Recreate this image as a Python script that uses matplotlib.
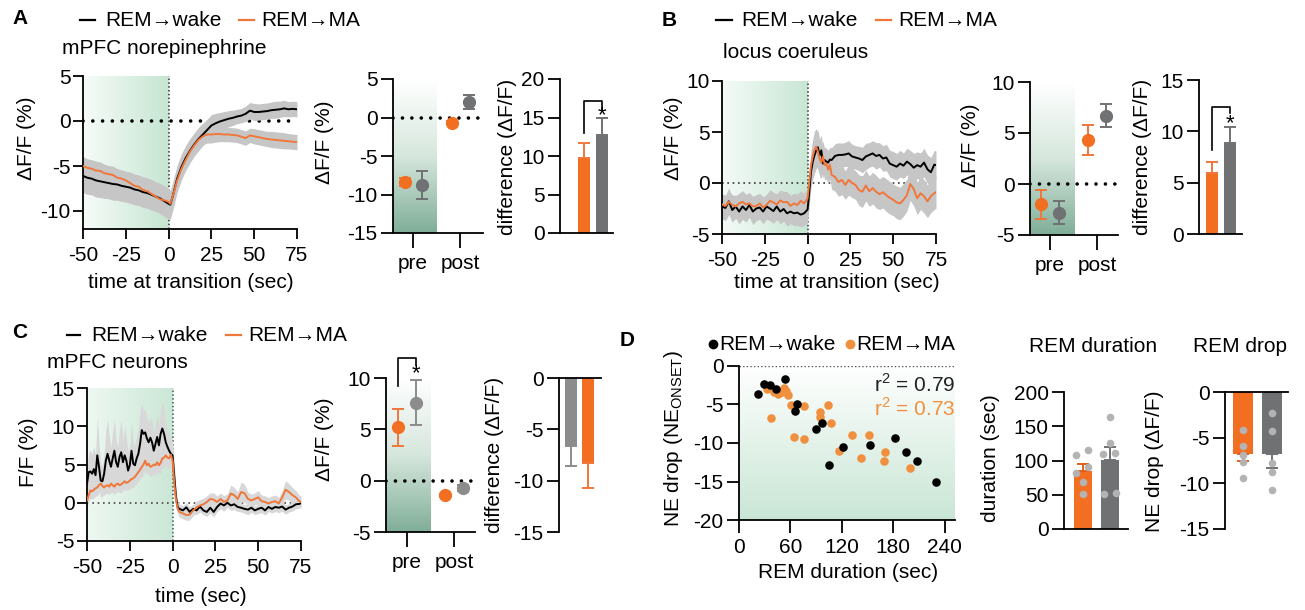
import numpy as np
import matplotlib
matplotlib.use("Agg")
import matplotlib.pyplot as plt
from matplotlib.colors import LinearSegmentedColormap
from matplotlib.lines import Line2D

plt.rcParams['font.family'] = ['Liberation Sans', 'DejaVu Sans']
plt.rcParams['axes.linewidth'] = 1.3
plt.rcParams['axes.unicode_minus'] = False

# --- colours ---
ORANGE = '#f26f22'
ORANGE_LINE = '#f0773a'
ORANGE_DOT = '#f0903e'
GRAY = '#6f7173'
GRAY_C = '#8c8c8c'
BAND = '#c6c6c6'
BAND_C = '#d8d8d8'
DOT_GRAY = '#b3b3b3'

# --- A: mPFC norepinephrine (mean +- sem) ---
a_t = [-50, -47.5, -45, -42.5, -40, -37.5, -35, -32.5, -30, -27.5, -25, -22.5, -20, -17.5, -15, -12.5,
       -10, -7.5, -5, -2.5, 0, 1, 2.5, 5, 7.5, 10, 12.5, 15, 17.5, 20, 22.5, 25, 27.5, 30, 32.5, 35,
       37.5, 40, 42.5, 45, 47.5, 50, 52.5, 55, 57.5, 60, 62.5, 65, 67.5, 70, 72.5, 75]
a_wake = [-6.1, -6.3, -6.4, -6.6, -6.7, -6.8, -6.9, -7.0, -7.05, -7.2, -7.3, -7.4, -7.6, -7.7, -7.9, -8.0,
          -8.2, -8.4, -8.6, -8.9, -9.2, -9.3, -8.3, -6.4, -5.1, -4.1, -3.3, -2.6, -2.0, -1.5, -1.0, -0.5,
          -0.25, -0.05, 0.1, 0.25, 0.35, 0.5, 0.6, 0.8, 1.15, 1.0, 1.0, 1.05, 1.1, 1.2, 1.25, 1.3, 1.4,
          1.3, 1.35, 1.3]
a_wake_sem = [1.85, 1.85, 1.8, 1.85, 1.8, 1.8, 1.75, 1.8, 1.75, 1.75, 1.7, 1.75, 1.7, 1.7, 1.7, 1.7,
              1.7, 1.65, 1.7, 1.7, 1.7, 1.6, 1.6, 1.5, 1.45, 1.4, 1.35, 1.3, 1.3, 1.25, 1.2, 1.2, 1.1,
              1.0, 0.95, 0.9, 0.85, 0.8, 0.8, 0.85, 0.9, 0.95, 0.9, 0.9, 0.9, 0.9, 0.95, 0.9, 0.9, 0.85,
              0.85, 0.85]
a_ma = [-5.0, -5.2, -5.3, -5.5, -5.55, -5.8, -5.9, -6.0, -6.3, -6.4, -6.6, -6.9, -7.2, -7.3, -7.65, -7.8,
        -8.1, -8.4, -8.7, -8.8, -9.0, -9.2, -8.3, -6.6, -5.3, -4.3, -3.4, -2.7, -2.1, -1.7, -1.5, -1.5,
        -1.45, -1.45, -1.5, -1.5, -1.55, -1.6, -1.75, -1.9, -1.6, -1.7, -1.8, -1.9, -2.0, -2.05, -2.1,
        -2.15, -2.2, -2.25, -2.3, -2.35]
a_ma_sem = [1.05, 1.0, 1.0, 1.05, 1.0, 1.0, 0.95, 1.0, 1.0, 0.95, 1.0, 1.0, 0.95, 1.0, 1.0, 0.95,
            1.0, 1.0, 1.0, 1.0, 1.0, 1.0, 1.1, 1.1, 1.05, 1.0, 1.0, 1.0, 1.0, 0.95, 0.95, 0.95, 0.9,
            0.85, 0.8, 0.8, 0.8, 0.8, 0.8, 0.8, 0.8, 0.85, 0.85, 0.85, 0.85, 0.9, 0.9, 0.9, 0.9, 0.85,
            0.85, 0.85]

# pre / post means (orange = REM->MA, gray = REM->wake)
a_pp_ma = [-8.4, -0.7]
a_pp_ma_err = [0.5, 0.2]
a_pp_wake = [-8.8, 2.0]
a_pp_wake_err = [1.8, 0.9]
a_diff = [9.7, 12.7]
a_diff_err = [2.0, 2.2]

# --- B: locus coeruleus ---
b_t = [-50, -48, -46, -44, -42, -40, -38, -36, -34, -32, -30, -28, -26, -24, -22, -20, -18, -16, -14,
       -12, -10, -8, -6, -4, -2, 0, 1, 2, 3, 4, 5, 6, 7, 8, 9, 10, 11, 12, 13, 14, 16, 18, 20, 22, 24,
       26, 28, 30, 32, 34, 36, 38, 40, 42, 44, 46, 48, 50, 52, 54, 56, 58, 60, 62, 64, 66, 68, 70, 72,
       74, 75]
b_wake = [-2.3, -2.45, -1.8, -2.65, -2.3, -2.8, -2.3, -2.65, -2.15, -2.8, -2.5, -2.4, -2.8, -2.3, -2.5,
          -2.75, -2.3, -2.8, -2.55, -2.97, -2.8, -2.97, -2.9, -3.1, -2.97, -2.6,
          -0.85, 1.1, 2.1, 2.7, 3.2, 3.5, 2.7, 3.2, 1.9, 2.25, 2.1, 2.0, 2.3, 2.25,
          2.65, 2.75, 2.75, 2.8, 2.9, 2.6, 2.5, 2.4, 2.25, 2.6, 2.75, 2.9, 2.65, 2.75, 2.4, 2.5, 1.9,
          1.75, 1.6, 1.9, 1.7, 2.1, 1.85, 1.5, 1.75, 1.6, 2.0, 1.35, 1.05, 1.8, 1.75]
b_wake_sem = [1.2, 1.25, 1.3, 1.2, 1.15, 1.2, 1.25, 1.2, 1.2, 1.3, 1.2, 1.15, 1.2, 1.25, 1.2, 1.2, 1.3,
              1.2, 1.2, 1.25, 1.2, 1.2, 1.25, 1.2, 1.2, 1.2,
              1.3, 1.5, 1.7, 1.8, 1.8, 1.7, 1.6, 1.5, 1.4, 1.3, 1.3, 1.2, 1.2, 1.2,
              1.2, 1.2, 1.15, 1.2, 1.25, 1.2, 1.15, 1.2, 1.25, 1.3, 1.2, 1.25, 1.3, 1.2, 1.25, 1.3, 1.3,
              1.35, 1.3, 1.3, 1.25, 1.3, 1.35, 1.4, 1.3, 1.35, 1.4, 1.4, 1.45, 1.4, 1.4]
b_ma = [-2.1, -2.25, -1.85, -2.15, -2.3, -2.0, -1.85, -2.1, -2.0, -2.3, -2.25, -2.0, -2.4, -2.15, -1.75,
        -1.9, -2.1, -1.7, -1.9, -1.85, -2.25, -2.0, -2.15, -1.75, -2.0, -1.5,
        0.1, 1.75, 2.6, 3.25, 3.55, 3.1, 2.4, 2.0, 2.6, 1.75, 1.9, 1.3, 1.8, 0.8,
        0.6, 0.1, 0.3, -0.2, 0.3, 0.0, -0.2, -0.7, -0.85, -0.25, -0.8, -0.5, -0.85, -1.1, -0.9, -1.2,
        -1.45, -1.65, -1.9, -2.0, -1.65, -1.2, -0.1, -0.6, -1.5, -1.0, -1.3, -1.8, -1.3, -1.0, -0.9]
b_ma_sem = [1.0, 1.05, 1.1, 1.0, 1.05, 1.0, 1.1, 1.0, 1.05, 1.0, 1.1, 1.0, 1.05, 1.0, 1.1, 1.0, 1.05,
            1.0, 1.1, 1.0, 1.05, 1.0, 1.05, 1.0, 1.0, 1.0,
            1.2, 1.5, 1.7, 1.8, 1.8, 1.8, 1.7, 1.6, 1.5, 1.5, 1.5, 1.4, 1.4, 1.4,
            1.4, 1.4, 1.45, 1.4, 1.5, 1.45, 1.4, 1.5, 1.55, 1.5, 1.5, 1.55, 1.6, 1.5, 1.55, 1.6, 1.6,
            1.55, 1.6, 1.6, 1.6, 1.55, 1.6, 1.65, 1.6, 1.6, 1.65, 1.6, 1.6, 1.6, 1.6]

b_pp_ma = [-2.0, 4.3]
b_pp_ma_err = [1.4, 1.5]
b_pp_wake = [-2.8, 6.7]
b_pp_wake_err = [1.1, 1.1]
b_diff = [5.9, 8.9]
b_diff_err = [1.1, 1.5]

# --- C: mPFC neurons ---
c_t = list(range(-50, 1)) + [1, 2, 3, 4] + list(range(6, 75, 2)) + [75]
c_wake = [2.5, 4.0, 4.1, 3.8, 4.4, 3.6, 6.2, 4.7, 2.9, 2.8, 3.8, 5.5, 6.4, 5.5, 4.7, 5.8, 6.8, 5.3, 4.7,
          6.0, 6.6, 5.3, 6.2, 5.5, 4.2, 4.9, 6.8, 5.1, 4.9, 5.8, 6.4, 7.7, 9.5, 9.0, 9.2, 8.4, 7.9, 8.5,
          7.9, 6.8, 7.7, 8.6, 7.5, 9.0, 9.7, 9.0, 7.9, 7.3, 6.8, 6.4, 6.2,
          3.4, 0.7, -0.6, -0.8, -1.0, -0.6, -1.2, -0.8, -1.0, -0.5, -1.0, -1.2, -0.65, -1.2, -0.55,
          -0.1, -0.35, 0.0, -0.35, -0.2, -0.55, -0.65, -0.8, -0.9, -0.65, -1.0, -0.8, -0.65, -1.0,
          -0.55, -0.8, -0.55, -0.65, -0.5, -0.9, -0.65, -0.5, -0.2, -0.15, -0.05]
c_wake_sem = [2.0, 2.5, 2.8, 2.5, 3.0, 2.6, 5.0, 3.0, 2.2, 2.0, 2.4, 4.0, 4.5, 3.2, 2.5, 3.5, 4.0, 3.0,
              2.6, 3.6, 4.2, 3.0, 3.8, 3.0, 2.4, 2.6, 3.8, 2.8, 2.6, 3.0, 3.2, 4.5, 3.5, 3.0, 3.0, 2.8,
              2.6, 2.8, 2.6, 2.4, 2.6, 3.0, 2.6, 3.2, 3.5, 3.0, 2.6, 2.4, 2.2, 2.0, 1.8,
              1.5, 1.0, 0.7, 0.65, 0.6, 0.6, 0.65, 0.6, 0.55, 0.7, 0.6, 0.6, 0.7, 0.65, 0.6, 0.7, 0.75,
              0.6, 0.65, 0.7, 0.6, 0.55, 0.6, 0.65, 0.6, 0.55, 0.6, 0.65, 0.6, 0.6, 0.55, 0.6, 0.65,
              0.6, 0.6, 0.55, 0.6, 0.6, 0.55, 0.5]
c_ma = [0.3, 1.0, 1.6, 1.5, 1.7, 1.9, 2.0, 2.3, 2.5, 2.2, 2.0, 2.2, 2.3, 2.1, 2.5, 2.3, 2.1, 2.4, 2.5,
        2.3, 2.4, 2.6, 2.8, 2.6, 2.7, 2.9, 3.1, 3.2, 3.4, 3.7, 4.0, 4.3, 4.7, 5.0, 5.5, 4.9, 5.1, 4.7,
        4.8, 5.0, 4.9, 5.3, 4.9, 5.2, 5.8, 5.9, 6.2, 5.9, 5.8, 6.3, 5.5,
        2.5, 0.3, -0.8, -1.2, -1.4, -1.6, -1.55, -1.0, -0.6, -0.35, -0.2, 0.1, 0.5, 0.4, 0.1, 0.5, 0.1,
        0.3, 1.2, 1.0, 0.5, 1.4, 1.25, 0.5, 0.3, 0.5, 0.7, 0.2, 0.1, -0.1, 0.1, 0.2, -0.1, 0.7, 1.7,
        1.4, 1.0, 0.7, 0.2, 0.1]
c_ma_sem = [0.8, 0.9, 1.0, 1.0, 1.1, 1.0, 1.1, 1.0, 1.0, 1.1, 1.0, 1.0, 1.1, 1.0, 1.1, 1.0, 1.0, 1.1,
            1.0, 1.0, 1.1, 1.0, 1.1, 1.0, 1.0, 1.1, 1.1, 1.2, 1.1, 1.2, 1.2, 1.2, 1.3, 1.3, 1.3, 1.2,
            1.2, 1.3, 1.2, 1.2, 1.3, 1.2, 1.2, 1.3, 1.3, 1.2, 1.2, 1.3, 1.2, 1.2, 1.2,
            1.2, 0.9, 0.7, 0.7, 0.7, 0.7, 0.7, 0.7, 0.8, 0.8, 0.8, 0.8, 0.8, 0.9, 0.8, 0.8, 0.8, 0.9,
            1.1, 1.0, 0.9, 1.3, 1.2, 0.9, 0.8, 0.8, 0.9, 0.8, 0.8, 0.8, 0.8, 0.8, 0.8, 0.9, 1.2, 1.1,
            1.0, 0.9, 0.8, 0.8]

c_pp_ma = [5.2, -1.4]
c_pp_ma_err = [1.8, 0.15]
c_pp_wake = [7.6, -0.7]
c_pp_wake_err = [2.2, 0.3]
c_diff = [-6.6, -8.3]          # gray (wake), orange (MA)
c_diff_err = [2.0, 2.4]

# --- D: NE drop vs REM duration ---
d_wake_x = [21.7, 29.1, 36.1, 43.1, 53.6, 67.2, 65.2, 90.1, 96.3, 105.2, 120.8, 153.0, 182.1, 195.3,
            207.8, 229.9]
d_wake_y = [-3.6, -2.3, -2.5, -3.0, -1.7, -5.0, -5.9, -8.2, -7.4, -12.8, -10.5, -10.3, -9.4, -11.2,
            -12.3, -15.0]
d_ma_x = [32.2, 41.2, 45.8, 49.7, 52.4, 54.4, 56.7, 60.6, 76.1, 64.5, 75.3, 94.8, 94.8, 104.1, 107.2,
          116.9, 131.3, 142.9, 151.5, 170.1, 169.3, 200.0, 37.3]
d_ma_y = [-3.0, -3.4, -3.6, -3.4, -2.9, -3.25, -3.8, -5.1, -5.15, -9.2, -9.5, -6.0, -6.6, -5.1, -7.4,
          -11.1, -9.0, -11.9, -9.0, -11.2, -12.4, -13.3, -6.8]

dur_mean = [84, 101]           # orange, gray
dur_err = [11, 18]
dur_ma_pts = [108, 115, 91, 82, 68, 51]
dur_wake_pts = [164, 125, 110, 111, 51, 52]
dur_ma_jit = [-0.26, 0.19, 0.19, -0.26, 0.0, 0.0]
dur_wake_jit = [0.0, 0.0, -0.25, 0.19, -0.22, 0.22]

drop_mean = [-6.8, -6.8]
drop_err = [0.8, 1.5]
drop_ma_pts = [-4.2, -5.9, -6.9, -7.7, -9.4]
drop_wake_pts = [-2.3, -4.3, -7.8, -8.8, -10.7]

W, H = 1305, 610
fig = plt.figure(figsize=(W / 100, H / 100), dpi=100)
FS = 15
TS = 15


def box(l, t, r, b):
    return fig.add_axes([l / W, 1 - b / H, (r - l) / W, (b - t) / H])


def ftext(x, y, s, **kw):
    kw.setdefault('fontsize', FS)
    return fig.text(x / W, 1 - y / H, s, **kw)


def ylab(x, y, s):
    ftext(x, y, s, rotation=90, ha='center', va='center')


def fline(x0, x1, y, color):
    fig.add_artist(Line2D([x0 / W, x1 / W], [1 - y / H, 1 - y / H], color=color, lw=1.6,
                          transform=fig.transFigure))


def fdot(x, y, color):
    fig.add_artist(Line2D([x / W], [1 - y / H], marker='o', ms=6, color=color, lw=0,
                          transform=fig.transFigure))


def style(ax, top=False, tick_len=9):
    ax.spines['right'].set_visible(False)
    if top:
        ax.spines['bottom'].set_visible(False)
    else:
        ax.spines['top'].set_visible(False)
    ax.tick_params(direction='out', length=tick_len, width=1.3, labelsize=TS, pad=2)


def gradient(ax, extent, colors, horizontal=True):
    cmap = LinearSegmentedColormap.from_list('shade', colors)
    ramp = np.linspace(0, 1, 256)
    img = ramp.reshape(1, -1) if horizontal else ramp.reshape(-1, 1)
    ax.imshow(img, extent=extent, origin='lower', aspect='auto', cmap=cmap, zorder=0,
              interpolation='bilinear')


def trace(ax, t, wake, wake_sem, ma, ma_sem, ylim, yticks, band, grad_cols, hl_kw, vl_color):
    t = np.array(t)
    wake, wake_sem = np.array(wake), np.array(wake_sem)
    ma, ma_sem = np.array(ma), np.array(ma_sem)
    gradient(ax, [-50, 0, ylim[0], ylim[1]], grad_cols, horizontal=True)
    ax.axhline(0, zorder=1, **hl_kw)
    ax.axvline(0, color=vl_color, ls=(0, (1, 1.5)), lw=1.1, zorder=1)
    ax.fill_between(t, wake - wake_sem, wake + wake_sem, color=band, lw=0, zorder=2)
    ax.fill_between(t, ma - ma_sem, ma + ma_sem, color=band, lw=0, zorder=2)
    ax.plot(t, wake, color='black', lw=1.4, zorder=3)
    ax.plot(t, ma, color=ORANGE_LINE, lw=1.4, zorder=4)
    ax.set_xlim(-50, 75)
    ax.set_ylim(*ylim)
    ax.set_xticks([-50, -25, 0, 25, 50, 75])
    ax.set_yticks(yticks)
    style(ax, tick_len=7)
    ax.tick_params(axis='x', pad=5)


PP_GRAD = [(0, '#80ae98'), (0.5, '#d6e7dd'), (1, '#ffffff')]


def prepost(ax, ma, ma_err, wake, wake_err, ylim, yticks, xlim, shade_end, gray, offs):
    gradient(ax, [xlim[0], shade_end, ylim[0], ylim[1]], PP_GRAD, horizontal=False)
    ax.axhline(0, color='black', ls=(0, (0.01, 2.6)), lw=2.6, dash_capstyle='round', zorder=1)
    ax.errorbar([1 + offs[0], 2 + offs[0]], ma, yerr=ma_err, fmt='o', color=ORANGE, ms=8.5,
                ecolor=ORANGE_LINE, elinewidth=1.4, capsize=4.5, capthick=1.4, zorder=3)
    ax.errorbar([1 + offs[1], 2 + offs[1]], wake, yerr=wake_err, fmt='o', color=gray, ms=8.5,
                ecolor=gray, elinewidth=1.4, capsize=4.5, capthick=1.4, zorder=3)
    ax.set_xlim(*xlim)
    ax.set_ylim(*ylim)
    ax.set_yticks(yticks)
    ax.set_xticks([1, 2])
    ax.set_xticklabels(['pre', 'post'], fontsize=FS)
    style(ax)
    ax.tick_params(axis='x', length=11, pad=4)


def bracket(ax, x1, x2, y1, y2, ytop, star_y):
    ax.plot([x1, x1, x2, x2], [y1, ytop, ytop, y2], color='black', lw=1.2, clip_on=False, zorder=5)
    ax.text(x2, star_y, '*', ha='center', va='center', fontsize=16, clip_on=False)


# ================= A =================
axA = box(83, 76, 297, 229)
trace(axA, a_t, a_wake, a_wake_sem, a_ma, a_ma_sem, (-12, 5), [-10, -5, 0, 5], BAND,
      ['#f7fcf9', '#c6e5d2'],
      dict(color='black', ls=(0, (0.01, 2.7)), lw=2.6, dash_capstyle='round'), '#333333')

axA2 = box(393, 79, 483, 233)
prepost(axA2, a_pp_ma, a_pp_ma_err, a_pp_wake, a_pp_wake_err, (-15, 5), [-15, -10, -5, 0, 5],
        (0.574, 2.49), 1.51, GRAY, (-0.18, 0.2))

axA3 = box(560, 79, 613, 233)
axA3.bar([1, 2], a_diff, width=0.67, color=[ORANGE, GRAY], zorder=2)
axA3.errorbar([1], [a_diff[0]], yerr=[[0], [a_diff_err[0]]], fmt='none', ecolor=ORANGE_LINE,
              elinewidth=1.4, capsize=4, capthick=1.4)
axA3.errorbar([2], [a_diff[1]], yerr=[[0], [a_diff_err[1]]], fmt='none', ecolor=GRAY,
              elinewidth=1.4, capsize=4, capthick=1.4)
axA3.set_xlim(-0.333, 2.61)
axA3.set_ylim(0, 20)
axA3.set_yticks([0, 5, 10, 15, 20])
axA3.set_xticks([])
style(axA3)
bracket(axA3, 1, 2, 13, 16, 17.1, 15.2)

# ================= B =================
axB = box(722, 81, 936, 234)
trace(axB, b_t, b_wake, b_wake_sem, b_ma, b_ma_sem, (-5, 10), [-5, 0, 5, 10], BAND,
      ['#f5fbf8', '#c8e6d4'],
      dict(color='#333333', ls=(0, (1, 2.2)), lw=1.2), '#333333')

axB2 = box(1030, 82, 1118, 235)
prepost(axB2, b_pp_ma, b_pp_ma_err, b_pp_wake, b_pp_wake_err, (-5, 10), [-5, 0, 5, 10],
        (0.574, 2.447), 1.53, GRAY, (-0.19, 0.19))

axB3 = box(1199, 80, 1242, 234)
axB3.bar([1, 2], b_diff, width=0.67, color=[ORANGE, GRAY], zorder=2)
axB3.errorbar([1], [b_diff[0]], yerr=[[0], [b_diff_err[0]]], fmt='none', ecolor=ORANGE_LINE,
              elinewidth=1.4, capsize=4, capthick=1.4)
axB3.errorbar([2], [b_diff[1]], yerr=[[0], [b_diff_err[1]]], fmt='none', ecolor=GRAY,
              elinewidth=1.4, capsize=4, capthick=1.4)
axB3.set_xlim(0.278, 2.667)
axB3.set_ylim(0, 15)
axB3.set_yticks([0, 5, 10, 15])
axB3.set_xticks([])
style(axB3)
bracket(axB3, 1, 2, 8.2, 11.8, 12.4, 10.7)

# ================= C =================
axC = box(87, 388, 301, 541)
trace(axC, c_t, c_wake, c_wake_sem, c_ma, c_ma_sem, (-5, 15), [-5, 0, 5, 10, 15], BAND_C,
      ['#eef8f2', '#cbe7d6'],
      dict(color='#444444', ls=(0, (1, 2.2)), lw=1.2), '#2f5f50')

axC2 = box(386, 378, 475, 532)
prepost(axC2, c_pp_ma, c_pp_ma_err, c_pp_wake, c_pp_wake_err, (-5, 10), [-5, 0, 5, 10],
        (0.553, 2.447), 1.51, GRAY_C, (-0.19, 0.19))
bracket(axC2, 1 - 0.19, 1 + 0.19, 9.2, 11.3, 11.9, 10.4)

axC3 = box(559, 378, 601, 532)
axC3.bar([1, 2], c_diff, width=0.7, color=[GRAY_C, ORANGE], zorder=2)
axC3.errorbar([1], [c_diff[0]], yerr=[[c_diff_err[0]], [0]], fmt='none', ecolor=GRAY_C,
              elinewidth=1.4, capsize=4, capthick=1.4)
axC3.errorbar([2], [c_diff[1]], yerr=[[c_diff_err[1]], [0]], fmt='none', ecolor=ORANGE_LINE,
              elinewidth=1.4, capsize=4, capthick=1.4)
axC3.set_xlim(0.294, 2.76)
axC3.set_ylim(-15, 0)
axC3.set_yticks([-15, -10, -5, 0])
axC3.set_xticks([])
style(axC3, top=True)

# ================= D =================
axD = box(739, 366, 955, 520)
gradient(axD, [0, 252, -20, 0], [(0, '#c9e6d5'), (1, '#ffffff')], horizontal=False)
axD.axhline(0, color='#555555', ls=(0, (1, 1.6)), lw=1.0, zorder=1)
axD.scatter(d_ma_x, d_ma_y, s=38, color=ORANGE_DOT, lw=0, zorder=3)
axD.scatter(d_wake_x, d_wake_y, s=38, color='black', lw=0, zorder=4)
axD.set_xlim(0, 252)
axD.set_ylim(-20, 0)
axD.set_xticks([0, 60, 120, 180, 240])
axD.set_yticks([-20, -15, -10, -5, 0])
style(axD)
axD.tick_params(axis='x', pad=4)

axD2 = box(1064, 392, 1128, 529)
axD2.bar([1, 2], dur_mean, width=0.69, color=[ORANGE, GRAY], zorder=2)
axD2.errorbar([1], [dur_mean[0]], yerr=[[0], [dur_err[0]]], fmt='none', ecolor='#e0601a',
              elinewidth=1.4, capsize=4, capthick=1.4, zorder=3)
axD2.errorbar([2], [dur_mean[1]], yerr=[[0], [dur_err[1]]], fmt='none', ecolor=GRAY,
              elinewidth=1.4, capsize=4, capthick=1.4, zorder=3)
axD2.scatter([1 + j for j in dur_ma_jit], dur_ma_pts, s=30, color=DOT_GRAY, lw=0, zorder=4)
axD2.scatter([2 + j for j in dur_wake_jit], dur_wake_pts, s=30, color=DOT_GRAY, lw=0, zorder=4)
axD2.set_xlim(0.296, 2.667)
axD2.set_ylim(0, 200)
axD2.set_yticks([0, 50, 100, 150, 200])
axD2.set_xticks([])
style(axD2)

axD3 = box(1225, 392, 1288, 529)
axD3.bar([1, 2], drop_mean, width=0.66, color=[ORANGE, GRAY], zorder=2)
axD3.errorbar([1], [drop_mean[0]], yerr=[[drop_err[0]], [0]], fmt='none', ecolor='#e0601a',
              elinewidth=1.4, capsize=4, capthick=1.4, zorder=3)
axD3.errorbar([2], [drop_mean[1]], yerr=[[drop_err[1]], [0]], fmt='none', ecolor=GRAY,
              elinewidth=1.4, capsize=4, capthick=1.4, zorder=3)
axD3.scatter([1] * len(drop_ma_pts), drop_ma_pts, s=30, color=DOT_GRAY, lw=0, zorder=4)
axD3.scatter([2] * len(drop_wake_pts), drop_wake_pts, s=30, color=DOT_GRAY, lw=0, zorder=4)
axD3.set_xlim(0.379, 2.55)
axD3.set_ylim(-15, 0)
axD3.set_yticks([-15, -10, -5, 0])
axD3.set_xticks([])
style(axD3, top=True)

# ================= texts =================
for letter, x, y in [('A', 12, 18), ('B', 662, 20), ('C', 12, 333), ('D', 620, 341)]:
    ftext(x, y, letter, fontweight='bold', ha='left', va='center')

# legends of the trace panels
for y, xd, xt, xo, xto in [(20, (80, 95), 105, (239, 254), 261),
                            (20, (716, 732), 741, (876, 891), 898),
                            (335, (67, 80), 91, (226, 241), 248)]:
    fline(xd[0], xd[1], y, 'black')
    ftext(xt, y, 'REM→wake', ha='left', va='center')
    fline(xo[0], xo[1], y, ORANGE_LINE)
    ftext(xto, y, 'REM→MA', ha='left', va='center')

ftext(62, 48, 'mPFC norepinephrine', ha='left', va='center')
ftext(723, 53, 'locus coeruleus', ha='left', va='center')
ftext(47, 363, 'mPFC neurons', ha='left', va='center')

fdot(713, 344, 'black')
ftext(719, 344, 'REM→wake', ha='left', va='center')
fdot(850, 344, ORANGE_DOT)
ftext(856, 344, 'REM→MA', ha='left', va='center')
ftext(955, 384, r'r$^\mathregular{2}$ = 0.79', ha='right', va='center', color='#222222')
ftext(955, 408, r'r$^\mathregular{2}$ = 0.73', ha='right', va='center', color=ORANGE_DOT)

ftext(1093, 347, 'REM duration', ha='center', va='center')
ftext(1240, 347, 'REM drop', ha='center', va='center')

# axis labels
ftext(191, 283, 'time at transition (sec)', ha='center', va='center')
ftext(837, 283, 'time at transition (sec)', ha='center', va='center')
ftext(201, 597, 'time (sec)', ha='center', va='center')
ftext(848, 573, 'REM duration (sec)', ha='center', va='center')

ylab(27, 138, 'ΔF/F (%)')
ylab(325, 142, 'ΔF/F (%)')
ylab(508, 157, 'difference (ΔF/F)')
ylab(673, 138, 'ΔF/F (%)')
ylab(970, 145, 'ΔF/F (%)')
ylab(1142, 157, 'difference (ΔF/F)')
ylab(29, 452, 'F/F (%)')
ylab(325, 439, 'ΔF/F (%)')
ylab(494, 455, 'difference (ΔF/F)')
ylab(673, 438, r'NE drop (NE$_\mathregular{ONSET}$)')
ylab(991, 458, 'duration (sec)')
ylab(1154, 461, 'NE drop (ΔF/F)')

fig.savefig('out.png', dpi=100)
